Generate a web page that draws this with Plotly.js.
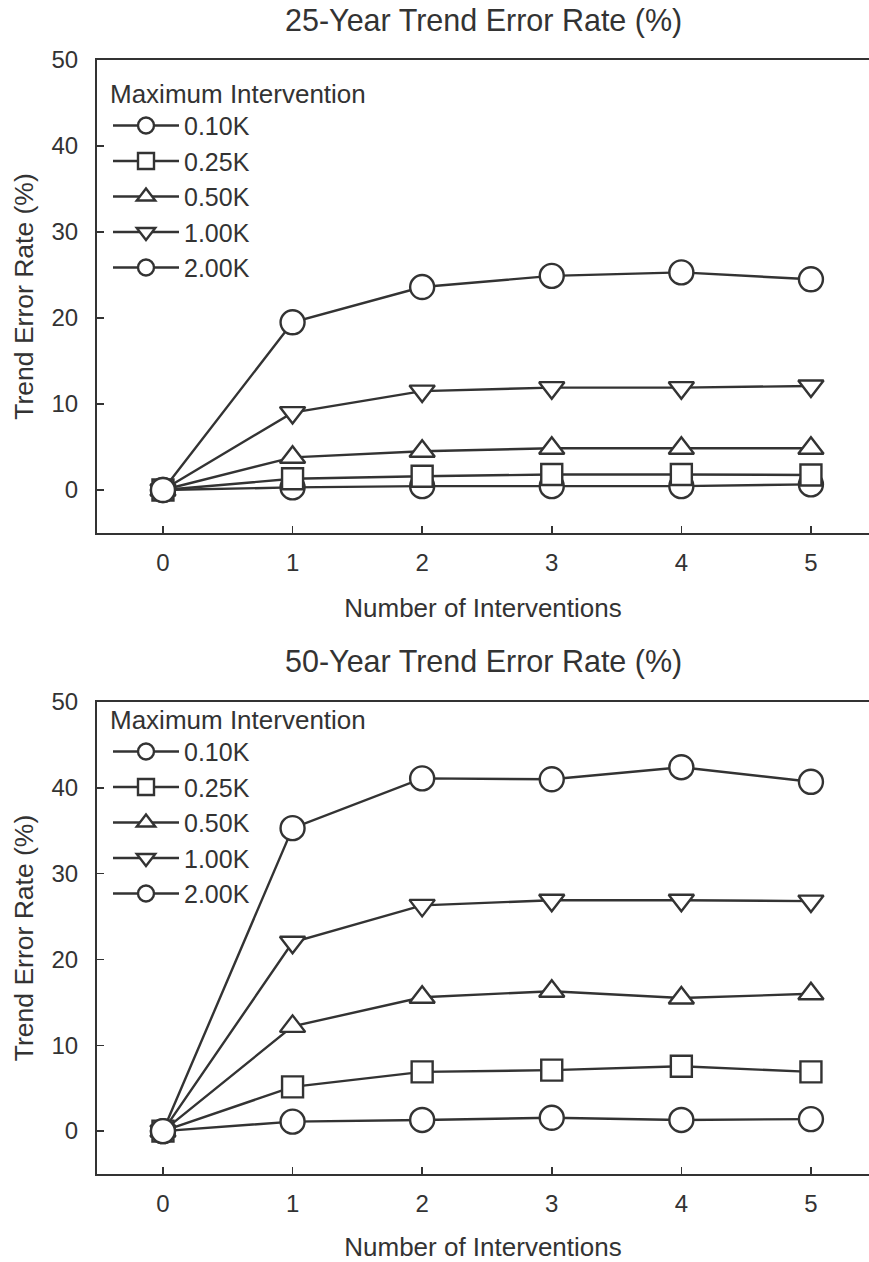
<!DOCTYPE html>
<html>
<head>
<meta charset="utf-8">
<script src="https://cdn.plot.ly/plotly-3.0.1.min.js"></script>
<style>
  html, body { margin: 0; padding: 0; background: #ffffff; }
  #chart { width: 869px; height: 1262px; }
</style>
</head>
<body>
<div id="chart"></div>
<script>
// Number of interventions on the x axis
const interventions = [0, 1, 2, 3, 4, 5];

// Maximum intervention sizes (legend labels)
const seriesNames = ['0.10K', '0.25K', '0.50K', '1.00K', '2.00K'];
const seriesSymbols = ['circle', 'square', 'triangle-up', 'triangle-down', 'circle'];

// 25-year trend error rate (%)
const err25_010 = [0, 0.3, 0.45, 0.45, 0.45, 0.65];
const err25_025 = [0, 1.3, 1.6, 1.8, 1.8, 1.75];
const err25_050 = [0, 3.8, 4.5, 4.85, 4.85, 4.85];
const err25_100 = [0, 9.0, 11.5, 11.9, 11.9, 12.1];
const err25_200 = [0, 19.5, 23.6, 24.9, 25.3, 24.5];

// 50-year trend error rate (%)
const err50_010 = [0, 1.1, 1.3, 1.55, 1.3, 1.4];
const err50_025 = [0, 5.15, 6.9, 7.1, 7.55, 6.9];
const err50_050 = [0, 12.2, 15.6, 16.3, 15.5, 16.0];
const err50_100 = [0, 22.0, 26.3, 26.9, 26.9, 26.8];
const err50_200 = [0, 35.3, 41.1, 41.0, 42.4, 40.7];

const ink = '#333333';
const fontFamily = '"Liberation Sans", Arial, sans-serif';

const markerSizes = {'circle': 24, 'square': 21, 'triangle-up': 22, 'triangle-down': 22};

function makeTraces(seriesList, xa, ya, legendId) {
  return seriesList.map((vals, i) => ({
    x: interventions,
    y: vals,
    name: seriesNames[i],
    type: 'scatter',
    mode: 'lines+markers',
    xaxis: xa,
    yaxis: ya,
    legend: legendId,
    line: { color: ink, width: 2.4 },
    marker: {
      symbol: seriesSymbols[i],
      size: markerSizes[seriesSymbols[i]],
      color: '#ffffff',
      line: { color: ink, width: 2.4 }
    },
    cliponaxis: false
  }));
}

const traces = [
  ...makeTraces([err25_010, err25_025, err25_050, err25_100, err25_200], 'x', 'y', 'legend'),
  ...makeTraces([err50_010, err50_025, err50_050, err50_100, err50_200], 'x2', 'y2', 'legend2')
];

function xAxis() {
  return {
    domain: [97 / 869, 1],
    range: [-0.509, 5.448],
    tickmode: 'linear', tick0: 0, dtick: 1,
    ticks: 'inside', ticklen: 7, tickwidth: 1.5, tickcolor: ink,
    showline: true, linecolor: ink, linewidth: 2, mirror: true,
    showgrid: false, zeroline: false,
    tickfont: { family: fontFamily, size: 24, color: ink },
    ticklabelstandoff: 7,
    title: { text: 'Number of Interventions', font: { family: fontFamily, size: 26, color: ink }, standoff: 24 }
  };
}
function yAxis(domain, anchor) {
  return {
    domain: domain,
    anchor: anchor,
    range: [-5, 50],
    tickmode: 'linear', tick0: 0, dtick: 10,
    ticks: 'inside', ticklen: 7, tickwidth: 1.5, tickcolor: ink,
    showline: true, linecolor: ink, linewidth: 2, mirror: true,
    showgrid: false, zeroline: false,
    tickfont: { family: fontFamily, size: 24, color: ink },
    ticklabelstandoff: 12,
    title: { text: 'Trend Error Rate (%)', font: { family: fontFamily, size: 26.5, color: ink }, standoff: 10 }
  };
}

const legendStyle = (yTop) => ({
  x: 108 / 869, xanchor: 'left',
  y: yTop, yanchor: 'top',
  bgcolor: 'rgba(0,0,0,0)', borderwidth: 0,
  itemwidth: 66,
  font: { family: fontFamily, size: 25, color: ink },
  title: { text: 'Maximum Intervention', font: { family: fontFamily, size: 26, color: ink } },
  itemclick: false, itemdoubleclick: false
});

const layout = {
  width: 869, height: 1262,
  margin: { l: 0, r: 0, t: 0, b: 0 },
  paper_bgcolor: '#ffffff', plot_bgcolor: '#ffffff',
  showlegend: true,
  xaxis: Object.assign(xAxis(), { anchor: 'y' }),
  yaxis: yAxis([1 - 533 / 1262, 1 - 60 / 1262], 'x'),
  xaxis2: Object.assign(xAxis(), { anchor: 'y2' }),
  yaxis2: yAxis([1 - 1174 / 1262, 1 - 702 / 1262], 'x2'),
  legend: legendStyle(1 - 69 / 1262),
  legend2: legendStyle(1 - 695 / 1262),
  annotations: [
    { text: '25-Year Trend Error Rate (%)', xref: 'x domain', yref: 'paper', x: 0.5, y: 1 - 21 / 1262,
      xanchor: 'center', yanchor: 'middle', showarrow: false, font: { family: fontFamily, size: 30.5, color: ink } },
    { text: '50-Year Trend Error Rate (%)', xref: 'x2 domain', yref: 'paper', x: 0.5, y: 1 - 661 / 1262,
      xanchor: 'center', yanchor: 'middle', showarrow: false, font: { family: fontFamily, size: 30.5, color: ink } }
  ]
};

Plotly.newPlot('chart', traces, layout, { staticPlot: true, displayModeBar: false });
</script>
</body>
</html>
